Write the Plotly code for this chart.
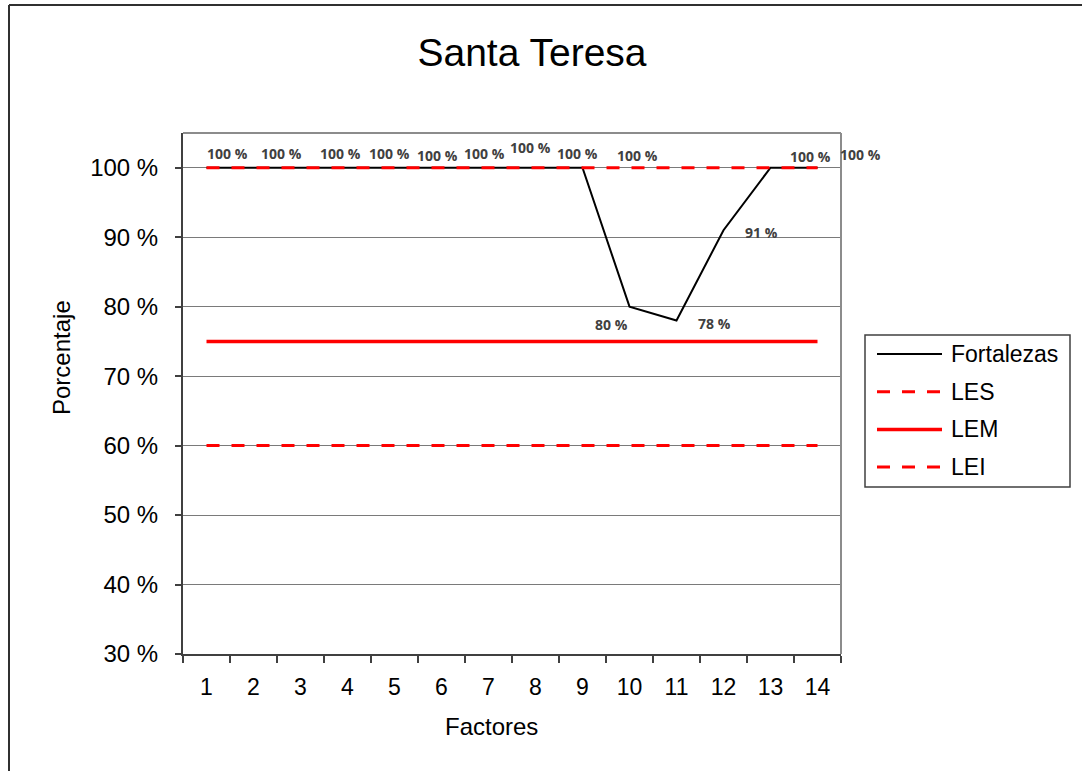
import plotly.graph_objects as go

# Factors evaluated and the share of strengths per factor
factores = [1, 2, 3, 4, 5, 6, 7, 8, 9, 10, 11, 12, 13, 14]
fortalezas = [100, 100, 100, 100, 100, 100, 100, 100, 100, 80, 78, 91, 100, 100]
les = [100] * 14   # upper limit
lem = [75] * 14    # middle limit
lei = [60] * 14    # lower limit
y_ticks = [30, 40, 50, 60, 70, 80, 90, 100]
series_names = ["Fortalezas", "LES", "LEM", "LEI"]

# data-label placement (pixel shift from each point)
label_dx = [21, 28, 40, 42, 43, 43, 42, 42, 55, -18, 38, 38, 40, 43]
label_dy = [-14, -14, -14, -14, -12, -14, -20, -14, -12, 18, 3, 2, -11, -13]

# plot-area geometry in pixels
W, H = 1082, 771
L, R, T, B = 183, 841, 133, 654
PW, PH = R - L, B - T
FONT = "Arial, Liberation Sans"


def px_x(px):
    return (px - L) / PW


def px_y(py):
    return (B - py) / PH


styles = [
    dict(color="black", width=2),
    dict(color="#ff0000", width=3, dash="13px,12px"),
    dict(color="#ff0000", width=3.5),
    dict(color="#ff0000", width=3, dash="13px,12px"),
]

fig = go.Figure()
for name, values, style in zip(series_names, [fortalezas, les, lem, lei], styles):
    fig.add_trace(go.Scatter(x=factores, y=values, mode="lines", name=name,
                             line=style, showlegend=False))

annotations = []
for xi, yi, dx, dy in zip(factores, fortalezas, label_dx, label_dy):
    annotations.append(dict(x=xi, y=yi, xref="x", yref="y", text=f"{yi} %",
                            showarrow=False, xshift=dx, yshift=-dy,
                            font=dict(family="Open Sans", size=14, color="#404040",
                                      weight="bold")))

annotations.append(dict(text="Porcentaje", x=px_x(61), y=px_y(358), xref="paper", yref="paper",
                        xanchor="center", yanchor="middle",
                        textangle=-90, showarrow=False,
                        font=dict(family=FONT, size=24, color="black")))
annotations.append(dict(text="Factores", x=px_x(491), y=px_y(726), xref="paper", yref="paper",
                        xanchor="center", yanchor="middle",
                        showarrow=False,
                        font=dict(family=FONT, size=24, color="black")))

shapes = [
    # outer frame (top and left edges)
    dict(type="line", xref="paper", yref="paper", x0=px_x(9), x1=px_x(W + 5),
         y0=px_y(5), y1=px_y(5), line=dict(color="#303030", width=2)),
    dict(type="line", xref="paper", yref="paper", x0=px_x(9), x1=px_x(9),
         y0=px_y(5), y1=px_y(H + 5), line=dict(color="#303030", width=2)),
    # plot-area top and right border
    dict(type="line", xref="paper", yref="paper", x0=0, x1=1, y0=1, y1=1,
         line=dict(color="#8c8c8c", width=2)),
    dict(type="line", xref="paper", yref="paper", x0=1, x1=1, y0=0, y1=1,
         line=dict(color="#8c8c8c", width=2)),
    # legend box
    dict(type="rect", xref="paper", yref="paper", x0=px_x(865), x1=px_x(1070),
         y0=px_y(335), y1=px_y(487), line=dict(color="#404040", width=1.5),
         fillcolor="white", layer="above"),
]

# legend entries: sample line plus series name
for i, (name, style) in enumerate(zip(series_names, styles)):
    yc = px_y(354 + 37.7 * i)
    shapes.append(dict(type="line", xref="paper", yref="paper", x0=px_x(877), x1=px_x(942),
                       y0=yc, y1=yc, line=style, layer="above"))
    annotations.append(dict(text=name, x=px_x(949), y=yc, xref="paper", yref="paper",
                            xanchor="left", yanchor="middle", showarrow=False,
                            font=dict(family=FONT, size=23, color="black")))

fig.update_layout(
    width=W, height=H,
    margin=dict(l=L, r=W - R, t=T, b=H - B, autoexpand=False),
    paper_bgcolor="white", plot_bgcolor="white",
    title=dict(text="Santa Teresa", x=px_x(532), xref="paper", xanchor="center",
               y=1 - 52 / H, yref="container", yanchor="middle",
               font=dict(family=FONT, size=39, color="black")),
    font=dict(family=FONT, color="black"),
    showlegend=False,
    annotations=annotations,
    shapes=shapes,
)

fig.update_xaxes(range=[0.5, 14.5], tickvals=factores, ticktext=[str(f) for f in factores],
                 ticks="", ticklabelstandoff=11, showgrid=False, zeroline=False,
                 showline=True, linecolor="#404040", linewidth=2,
                 tickfont=dict(family=FONT, size=23, color="black"),
                 minor=dict(tick0=0.5, dtick=1, ticks="outside", ticklen=7,
                            tickcolor="#404040", tickwidth=1.5, showgrid=False))
fig.update_yaxes(range=[30, 105], tickvals=y_ticks, ticktext=[f"{v} %" for v in y_ticks],
                 ticks="outside", ticklen=6, tickcolor="#404040", tickwidth=1.5,
                 ticklabelstandoff=12,
                 showgrid=True, gridcolor="#7a7a7a", gridwidth=1.3, zeroline=False,
                 showline=True, linecolor="#404040", linewidth=2,
                 tickfont=dict(family=FONT, size=24, color="black"))

fig.write_html("out.html")
